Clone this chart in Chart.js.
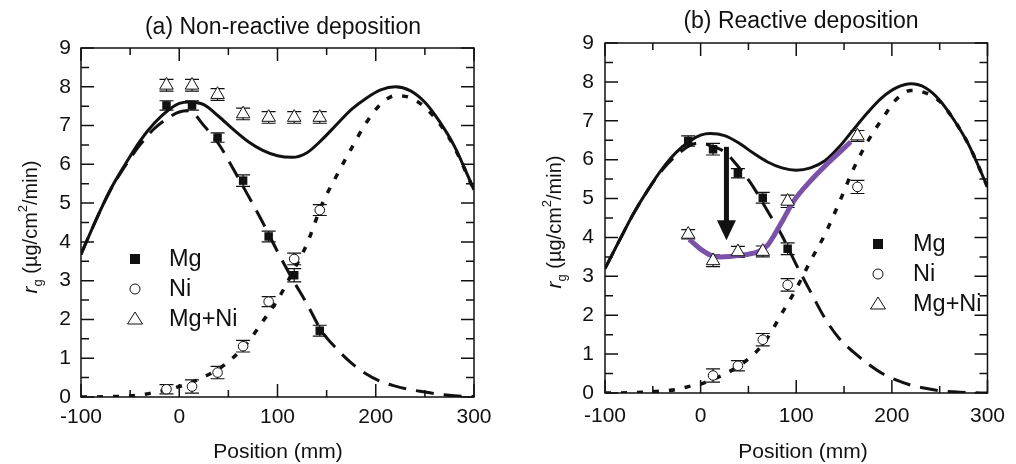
<!DOCTYPE html>
<html>
<head>
<meta charset="utf-8">
<script src="https://cdn.jsdelivr.net/npm/chart.js@4.4.1/dist/chart.umd.min.js"></script>
<style>
  html, body { margin: 0; padding: 0; background: #fff; }
  #wrap { position: relative; width: 1016px; height: 464px; }
  .panel { position: absolute; top: 0; width: 508px; height: 464px; }
</style>
</head>
<body>
<div id="wrap">
  <div class="panel" style="left:0"><canvas id="chartA" width="508" height="464"></canvas></div>
  <div class="panel" style="left:508px"><canvas id="chartB" width="508" height="464"></canvas></div>
</div>
<script>
// ---- measured points, panel (a) ----
const posA = [-13, 13, 39, 65, 91, 117, 143];
const mgA = [7.52, 7.52, 6.69, 5.58, 4.14, 3.14, 1.71];
const mgErrA = [0.12, 0.12, 0.12, 0.15, 0.14, 0.17, 0.14];
const niA = [0.2, 0.27, 0.63, 1.31, 2.46, 3.56, 4.82];
const niErrA = [0.12, 0.17, 0.16, 0.15, 0.13, 0.15, 0.14];
const sumA = [8.04, 8.04, 7.8, 7.3, 7.21, 7.21, 7.21];
const sumErrA = [0.15, 0.15, 0.15, 0.15, 0.15, 0.15, 0.15];

// ---- measured points, panel (b) ----
const mgPosB = [-13, 13, 39, 65, 91];
const mgB = [6.48, 6.27, 5.65, 5.02, 3.71];
const mgErrB = [0.13, 0.15, 0.12, 0.14, 0.15];
const niPosB = [13, 39, 65, 91, 164];
const niB = [0.45, 0.7, 1.37, 2.78, 5.3];
const niErrB = [0.17, 0.13, 0.16, 0.16, 0.17];
const sumPosB = [-13, 13, 39, 65, 91, 164];
const sumB = [4.08, 3.4, 3.63, 3.64, 4.93, 6.61];
const sumErrB = [0.12, 0.15, 0.14, 0.14, 0.16, 0.14];

// ---- model curves ----
const curveX = [-100, -85, -70, -55, -40, -25, -10, 0, 10, 25, 40, 55, 70, 85, 100,
  115, 130, 145, 160, 175, 190, 205, 220, 235, 250, 265, 280, 300];
const totalA = [3.68, 4.55, 5.35, 6.0, 6.6, 7.07, 7.42, 7.57, 7.61, 7.54, 7.24, 6.9, 6.59, 6.36, 6.22,
  6.18, 6.3, 6.63, 7.02, 7.41, 7.7, 7.92, 8.0, 7.9, 7.6, 7.1, 6.47, 5.34];
const mgCurveA = [3.68, 4.55, 5.34, 5.96, 6.5, 6.93, 7.22, 7.35, 7.38, 7.0, 6.53, 5.88, 5.2, 4.5, 3.75,
  3.05, 2.4, 1.7, 1.25, 0.88, 0.6, 0.4, 0.28, 0.19, 0.13, 0.07, 0.03, 0.01];
const niCurveA = [0, 0, 0.01, 0.02, 0.05, 0.12, 0.2, 0.27, 0.35, 0.52, 0.72, 1.02, 1.42, 1.95, 2.5,
  3.2, 3.95, 4.95, 5.7, 6.4, 7.06, 7.55, 7.77, 7.72, 7.47, 7.05, 6.44, 5.33];

const totalB = [3.2, 3.92, 4.62, 5.23, 5.77, 6.2, 6.5, 6.63, 6.67, 6.62, 6.43, 6.17, 5.94, 5.79, 5.73,
  5.79, 5.97, 6.33, 6.78, 7.22, 7.6, 7.85, 7.95, 7.85, 7.53, 7.02, 6.4, 5.3];
const mgCurveB = [3.2, 3.92, 4.62, 5.22, 5.74, 6.12, 6.38, 6.43, 6.36, 6.2, 5.8, 5.3, 4.68, 4.05, 3.3,
  2.6, 1.92, 1.4, 1.05, 0.75, 0.5, 0.33, 0.2, 0.12, 0.06, 0.03, 0.01, 0];
const niCurveB = [0, 0, 0.01, 0.03, 0.05, 0.09, 0.18, 0.23, 0.33, 0.48, 0.7, 0.98, 1.42, 2.05, 2.68,
  3.4, 4.08, 4.9, 5.77, 6.48, 7.05, 7.56, 7.78, 7.72, 7.5, 7.02, 6.4, 5.3];

// purple guide line in (b)
const guideX = [-12, 0, 10, 20, 30, 40, 50, 60, 70, 77, 87, 97, 114, 131, 148, 157];
const guideY = [3.95, 3.7, 3.55, 3.5, 3.51, 3.54, 3.57, 3.63, 3.8, 4.06, 4.49, 4.92, 5.43, 5.86, 6.25, 6.46];

// arrow in (b): x, from y, to y
const arrowB = [27, 6.33, 3.93];

const xTicks = [-100, 0, 100, 200, 300];
const legendNames = ['Mg', 'Ni', 'Mg+Ni'];

const FONT = '"Liberation Sans", Arial, Helvetica, sans-serif';
const INK = '#111';
const PURPLE = '#7b52a9';

const pts = (xs, ys) => xs.map((x, i) => ({ x: x, y: ys[i] }));

function markerSets(mgX, mg, mgE, niX, ni, niE, sX, s, sE) {
  return [
    { data: pts(sX, s), errors: sE, pointStyle: 'triangle', pointRadius: 7.8,
      backgroundColor: '#fff', borderColor: INK, borderWidth: 1 },
    { data: pts(niX, ni), errors: niE, pointStyle: 'circle', pointRadius: 4.8,
      backgroundColor: '#fff', borderColor: INK, borderWidth: 1 },
    { data: pts(mgX, mg), errors: mgE, pointStyle: 'rect', pointRadius: 6,
      backgroundColor: INK, borderColor: INK, borderWidth: 0 },
  ];
}

function curve(ys, dash, extra) {
  return Object.assign({
    data: pts(curveX, ys), showLine: true, pointRadius: 0, borderColor: INK,
    borderWidth: 3, borderDash: dash, cubicInterpolationMode: 'monotone', fill: false,
  }, extra || {});
}

// frame, inward ticks, error bars, titles, legend, arrow
const decoPlugin = {
  id: 'deco',
  beforeDatasetsDraw(chart) {
    const ctx = chart.ctx, xs = chart.scales.x, ys = chart.scales.y;
    ctx.save();
    ctx.strokeStyle = INK;
    ctx.lineWidth = 1.2;
    chart.data.datasets.forEach((ds) => {
      if (!ds.errors) return;
      ds.data.forEach((p, i) => {
        const px = xs.getPixelForValue(p.x);
        const y1 = ys.getPixelForValue(p.y + ds.errors[i]);
        const y2 = ys.getPixelForValue(p.y - ds.errors[i]);
        ctx.beginPath();
        ctx.moveTo(px, y1); ctx.lineTo(px, y2);
        ctx.moveTo(px - 7, y1); ctx.lineTo(px + 7, y1);
        ctx.moveTo(px - 7, y2); ctx.lineTo(px + 7, y2);
        ctx.stroke();
      });
    });
    ctx.restore();
  },
  afterDraw(chart, args, o) {
    const ctx = chart.ctx, a = chart.chartArea, xs = chart.scales.x, ys = chart.scales.y;
    ctx.save();
    ctx.strokeStyle = INK;
    ctx.lineWidth = 1.5;
    ctx.strokeRect(a.left, a.top, a.right - a.left, a.bottom - a.top);
    ctx.beginPath();
    for (let v = -100; v <= 300; v += 50) {
      const px = xs.getPixelForValue(v), L = v % 100 === 0 ? 13 : 7;
      ctx.moveTo(px, a.bottom); ctx.lineTo(px, a.bottom - L);
      ctx.moveTo(px, a.top); ctx.lineTo(px, a.top + L);
    }
    for (let v = 0; v <= 9; v += 0.5) {
      const py = ys.getPixelForValue(v), L = v % 1 === 0 ? 13 : 8;
      ctx.moveTo(a.left, py); ctx.lineTo(a.left + L, py);
      ctx.moveTo(a.right, py); ctx.lineTo(a.right - L, py);
    }
    ctx.stroke();

    // arrow
    if (o.arrow) {
      const ax = xs.getPixelForValue(o.arrow[0]);
      const y0 = ys.getPixelForValue(o.arrow[1]);
      const y1 = ys.getPixelForValue(o.arrow[2]);
      ctx.fillStyle = INK;
      ctx.fillRect(ax - 2.5, y0, 5, (y1 - 18) - y0);
      ctx.beginPath();
      ctx.moveTo(ax - 9.5, y1 - 20);
      ctx.lineTo(ax + 9.5, y1 - 20);
      ctx.lineTo(ax, y1);
      ctx.closePath();
      ctx.fill();
    }

    // titles
    ctx.fillStyle = INK;
    ctx.textAlign = 'center';
    ctx.textBaseline = 'middle';
    ctx.font = '23px ' + FONT;
    ctx.fillText(o.title, o.titleX, o.titleY);
    ctx.font = '21px ' + FONT;
    ctx.fillText('Position (mm)', o.xTitleX, o.xTitleY);

    // y-axis title with sub/superscript
    const parts = [
      { t: 'r', f: 'italic 21px ' + FONT, dy: 0 },
      { t: 'g', f: '13px ' + FONT, dy: 7 },
      { t: ' (µg/cm', f: '20px ' + FONT, dy: 0 },
      { t: '2', f: '13px ' + FONT, dy: -8 },
      { t: '/min)', f: '20px ' + FONT, dy: 0 },
    ];
    let total = 0;
    parts.forEach((p) => { ctx.font = p.f; p.w = ctx.measureText(p.t).width; total += p.w; });
    ctx.translate(o.yTitleX, o.yTitleY);
    ctx.rotate(-Math.PI / 2);
    ctx.textAlign = 'left';
    let cx = -total / 2;
    parts.forEach((p) => { ctx.font = p.f; ctx.fillText(p.t, cx, p.dy); cx += p.w; });
    ctx.setTransform(1, 0, 0, 1, 0, 0);

    // legend
    const L = o.legend;
    ctx.font = '23.5px ' + FONT;
    ctx.textAlign = 'left';
    ctx.lineWidth = 1;
    legendNames.forEach((name, i) => {
      const y = L.y + i * L.dy;
      ctx.fillStyle = INK;
      ctx.strokeStyle = INK;
      if (i === 0) {
        ctx.fillRect(L.x - 5, y - 5, 10, 10);
      } else if (i === 1) {
        ctx.beginPath(); ctx.arc(L.x, y, 5, 0, Math.PI * 2);
        ctx.fillStyle = '#fff'; ctx.fill(); ctx.stroke();
      } else {
        ctx.beginPath();
        ctx.moveTo(L.x, y - 7); ctx.lineTo(L.x + 7.5, y + 5); ctx.lineTo(L.x - 7.5, y + 5);
        ctx.closePath();
        ctx.fillStyle = '#fff'; ctx.fill(); ctx.stroke();
      }
      ctx.fillStyle = INK;
      ctx.fillText(name, L.textX, y + 1);
    });
    ctx.restore();
  },
};

function scales(tickPadX, tickPadY, yWidth, xHeight) {
  return {
    x: {
      type: 'linear', min: -100, max: 300,
      afterBuildTicks: (s) => { s.ticks = xTicks.map((v) => ({ value: v })); },
      afterFit: (s) => { s.height = xHeight; },
      grid: { display: false, drawTicks: false },
      border: { display: false },
      ticks: { color: INK, font: { family: FONT, size: 21 }, padding: tickPadX, autoSkip: false, maxRotation: 0 },
    },
    y: {
      type: 'linear', min: 0, max: 9,
      afterFit: (s) => { s.width = yWidth; },
      grid: { display: false, drawTicks: false },
      border: { display: false },
      ticks: { color: INK, font: { family: FONT, size: 21 }, padding: tickPadY, stepSize: 1 },
    },
  };
}

new Chart(document.getElementById('chartA'), {
  type: 'scatter',
  data: {
    datasets: markerSets(posA, mgA, mgErrA, posA, niA, niErrA, posA, sumA, sumErrA).concat([
      curve(totalA, []),
      curve(mgCurveA, [18, 10]),
      curve(niCurveA, [6, 10], { borderWidth: 3.5 }),
    ]),
  },
  options: {
    responsive: false, animation: false, events: [],
    layout: { padding: { left: 0, top: 48, right: 34, bottom: 0 } },
    scales: scales(8, 10, 81, 67),
    plugins: {
      legend: { display: false }, tooltip: { enabled: false },
      deco: {
        title: '(a) Non-reactive deposition', titleX: 283, titleY: 28,
        xTitleX: 278, xTitleY: 452, yTitleX: 31, yTitleY: 227,
        legend: { x: 135, y: 259, dy: 30, textX: 169 },
      },
    },
  },
  plugins: [decoPlugin],
});

new Chart(document.getElementById('chartB'), {
  type: 'scatter',
  data: {
    datasets: markerSets(mgPosB, mgB, mgErrB, niPosB, niB, niErrB, sumPosB, sumB, sumErrB).concat([
      { data: pts(guideX, guideY), showLine: true, pointRadius: 0, borderColor: PURPLE,
        borderWidth: 5, cubicInterpolationMode: 'monotone', fill: false },
      curve(totalB, []),
      curve(mgCurveB, [18, 10]),
      curve(niCurveB, [6, 10], { borderWidth: 3.5 }),
    ]),
  },
  options: {
    responsive: false, animation: false, events: [],
    layout: { padding: { left: 0, top: 43, right: 18, bottom: 0 } },
    scales: scales(11, 11, 97, 71),
    plugins: {
      legend: { display: false }, tooltip: { enabled: false },
      deco: {
        title: '(b) Reactive deposition', titleX: 293, titleY: 22,
        xTitleX: 295, xTitleY: 452, yTitleX: 47, yTitleY: 222,
        legend: { x: 370, y: 244, dy: 30, textX: 405 },
        arrow: arrowB,
      },
    },
  },
  plugins: [decoPlugin],
});
</script>
</body>
</html>
